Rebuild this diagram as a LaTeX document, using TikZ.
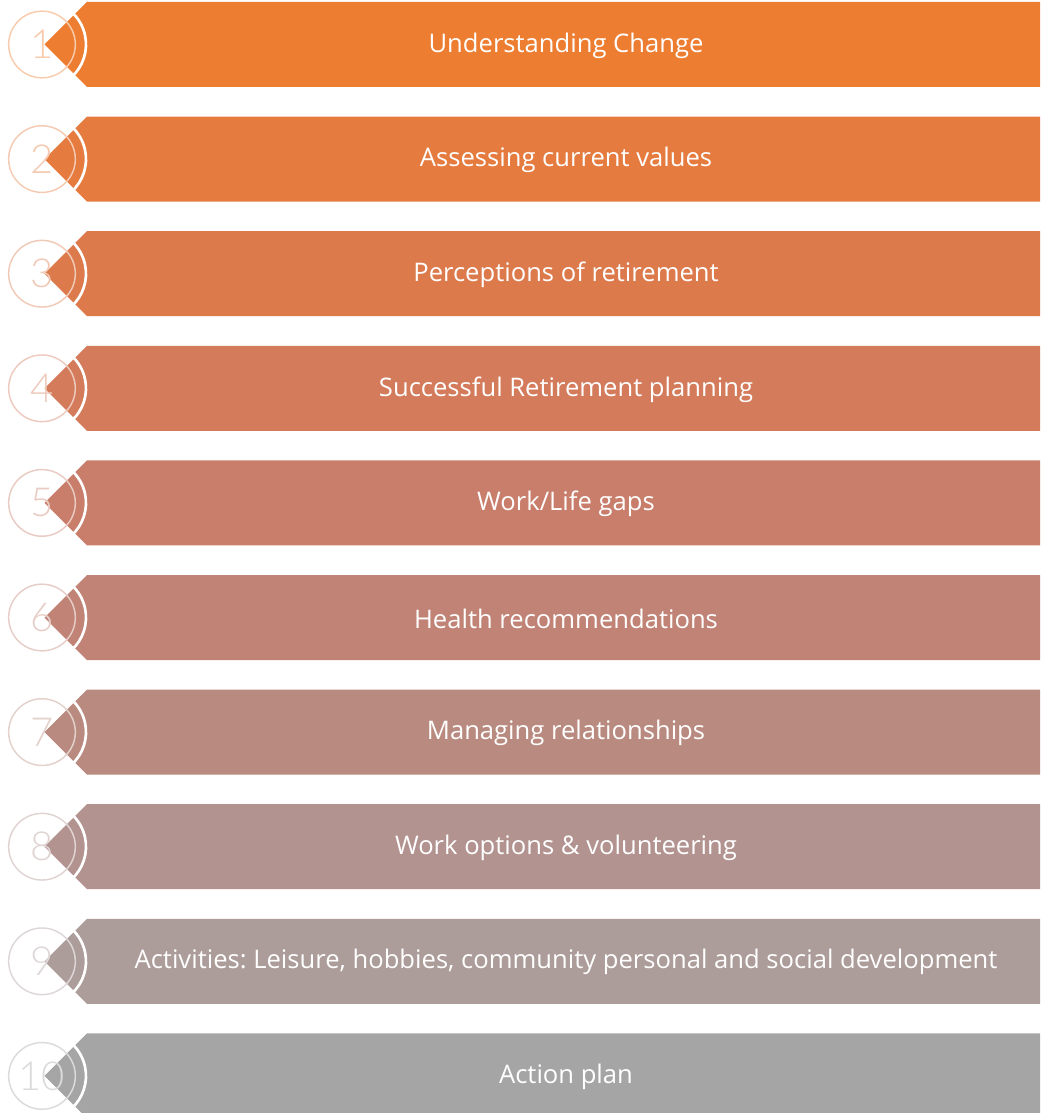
\documentclass[tikz,border=0pt]{standalone}
\usepackage{fontspec}
\setmainfont{Open Sans}
\newfontfamily\numfont{Lato Light}
\usetikzlibrary{calc, positioning}
\frenchspacing
% colour ramp, orange to grey
\definecolor{tone1}{HTML}{ED7D31}
\definecolor{tone2}{HTML}{E57B3E}
\definecolor{tone3}{HTML}{DC7A4C}
\definecolor{tone4}{HTML}{D37B5A}
\definecolor{tone5}{HTML}{C87E6A}
\definecolor{tone6}{HTML}{C08376}
\definecolor{tone7}{HTML}{B98B80}
\definecolor{tone8}{HTML}{B29390}
\definecolor{tone9}{HTML}{AC9C9A}
\definecolor{tone10}{HTML}{A5A5A5}
\tikzstyle{numring} = [circle, line width=1.1pt, minimum size=50pt, inner sep=0pt, font=\numfont\fontsize{30}{30}\selectfont]
\tikzstyle{label} = [text=white, font=\fontsize{19.2}{22}\selectfont]
\tikzstyle{gap} = [white, line width=2pt]
\begin{document}
\begin{tikzpicture}[x=0.75pt, y=0.75pt]
	\useasboundingbox (0,0) rectangle (1040,-1113);
	\foreach \n/\txt [count=\i from 0] in {1/{Understanding Change}, 2/{Assessing current values}, 3/{Perceptions of retirement}, 4/{Successful Retirement planning}, 5/{Work/Life gaps}, 6/{Health recommendations}, 7/{Managing relationships}, 8/{Work options \& volunteering}, 9/{Activities: Leisure, hobbies, community personal and social development}, 10/{Action plan}}
	{
		\pgfmathsetmacro\yc{-44.5-114.6*\i}
		\colorlet{ring}{tone\n!40!white}
		\coordinate (Tip\n) at (44.5,\yc);
		\fill[tone\n] (Tip\n) -- ++(42.5,42.5) -- (1040,\yc+42.5) -- (1040,\yc-42.5) -- ($(Tip\n)+(42.5,-42.5)$) -- cycle;
		\node (Label\n) [label] at (566,\yc-1) {\txt};
		\node (Num\n) [numring, draw=ring, text=ring] at (42,\yc) {\n};
		\draw[gap] (Num\n.center) ++(-48:44) arc (-48:48:44);
	}
\end{tikzpicture}
\end{document}
